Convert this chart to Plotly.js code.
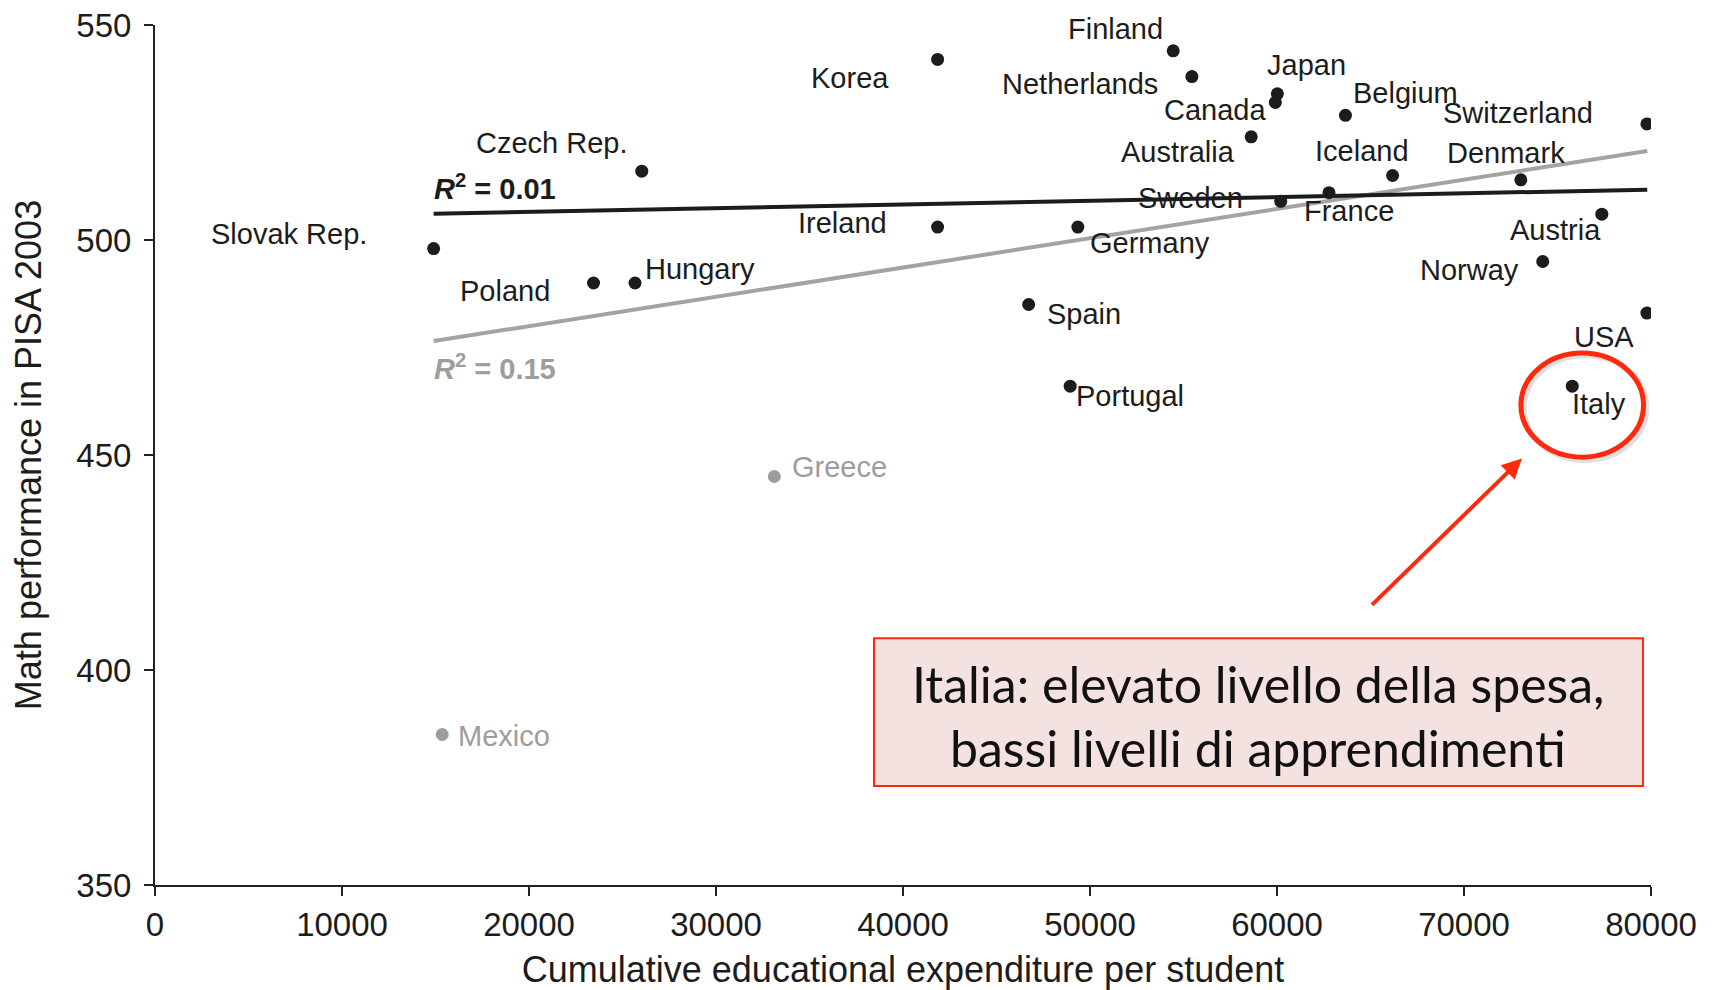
<!DOCTYPE html>
<html>
<head>
<meta charset="utf-8">
<script src="https://cdn.plot.ly/plotly-3.0.1.min.js"></script>
<style>html,body{margin:0;padding:0;background:#fff;}#chart{width:1719px;height:990px;}</style>
</head>
<body>
<div id="chart"></div>
<script>
// ---- Data ----
const countries = ["Slovak Rep.","Poland","Hungary","Czech Rep.","Korea","Ireland","Spain","Portugal","Germany","Finland","Netherlands","Australia","Canada","Japan","Sweden","France","Belgium","Iceland","Denmark","Norway","Austria","Italy","Switzerland","USA"];
const expenditure = [14900,23450,25670,26030,41850,41850,46720,48940,49350,54450,55450,58620,59910,60020,60200,62780,63660,66180,73040,74210,77370,75790,79780,79780];
const mathScore = [498,490,490,516,542,503,485,466,503,544,538,524,532,534,509,511,529,515,514,495,506,466,527,483];

const outlierCountries = ["Greece","Mexico"];
const outlierExpenditure = [33120,15360];
const outlierScore = [445,385];

// Trend lines (endpoints)
const trendX = [14900, 79800];
const trendAllY = [476.5, 520.7];      // grey, R2 = 0.15 (with Greece & Mexico)
const trendExclY = [506.1, 511.7];     // black, R2 = 0.01

const xTicks = [0,10000,20000,30000,40000,50000,60000,70000,80000];
const yTicks = [350,400,450,500,550];

const calloutLines = ["Italia: elevato livello della spesa,", "bassi livelli di apprendimenti"];

// ---- Label offsets (pixels) ----
const labelOffsets = {
  "Finland":[-58,22], "Korea":[-88,-19], "Netherlands":[-112,-7], "Japan":[29,29],
  "Canada":[-60,-8], "Belgium":[60,22], "Switzerland":[-129,11], "Australia":[-73,-15],
  "Iceland":[-31,25], "Denmark":[-15,27], "Czech Rep.":[-90,28], "Sweden":[-90,3],
  "France":[20,-18], "Slovak Rep.":[-145,15], "Ireland":[-95,4], "Germany":[72,-16],
  "Austria":[-46,-16], "Hungary":[65,14], "Norway":[-73,-8], "Poland":[-89,-8],
  "Spain":[55,-9], "USA":[-43,-24], "Portugal":[60,-10], "Italy":[27,-18],
  "Greece":[65,10], "Mexico":[62,-1]
};

const BLACK = "#1c1c1c", GREY = "#9d9d9d", RED = "#ff2a0e";
const LABEL_FONT = {family:"Liberation Sans, Arial, sans-serif", size:29, color:BLACK};

const traces = [
  {x:trendX, y:trendAllY, mode:"lines", line:{color:"#a3a3a3", width:4}, hoverinfo:"skip"},
  {x:trendX, y:trendExclY, mode:"lines", line:{color:BLACK, width:4}, hoverinfo:"skip"},
  {x:expenditure, y:mathScore, mode:"markers", marker:{color:BLACK, size:13}, text:countries},
  {x:outlierExpenditure, y:outlierScore, mode:"markers", marker:{color:GREY, size:13}, text:outlierCountries}
];

const annotations = [];
countries.forEach((c,i)=>{
  const o = labelOffsets[c];
  annotations.push({x:expenditure[i], y:mathScore[i], text:c, showarrow:false,
    xshift:o[0], yshift:o[1], font:LABEL_FONT});
});
outlierCountries.forEach((c,i)=>{
  const o = labelOffsets[c];
  annotations.push({x:outlierExpenditure[i], y:outlierScore[i], text:c, showarrow:false,
    xshift:o[0], yshift:o[1], font:Object.assign({}, LABEL_FONT, {color:GREY})});
});
// R2 labels
annotations.push({x:trendX[0], y:trendExclY[0], xanchor:"left", yshift:27, xshift:-2, showarrow:false,
  text:"<b><i>R</i><sup>2</sup> = 0.01</b>", font:{family:"Liberation Sans, Arial, sans-serif", size:29, color:BLACK}});
annotations.push({x:trendX[0], y:trendAllY[0], xanchor:"left", yshift:-26, xshift:-2, showarrow:false,
  text:"<b><i>R</i><sup>2</sup> = 0.15</b>", font:{family:"Liberation Sans, Arial, sans-serif", size:29, color:GREY}});
// Callout text
annotations.push({x:59010, y:396.8, text:calloutLines[0], showarrow:false,
  font:{family:"Lato, sans-serif", size:50, color:"#111"}});
annotations.push({x:59010, y:381.9, text:calloutLines[1], showarrow:false,
  font:{family:"Lato, sans-serif", size:50, color:"#111"}});
// Arrow
annotations.push({x:73100, y:449.2, ax:65000, ay:414.8, axref:"x", ayref:"y", xref:"x", yref:"y",
  showarrow:true, arrowcolor:RED, arrowwidth:4, arrowhead:2, arrowsize:1, text:""});

const shapes = [
  {type:"rect", xref:"x", yref:"y", x0:38450, x1:79570, y0:373.0, y1:407.4,
   line:{color:RED, width:2}, fillcolor:"#f4e2e1", layer:"below"},
  {type:"circle", xref:"x", yref:"y", x0:73200, x1:79750, y0:448.8, y1:473.2,
   line:{color:"rgba(0,0,0,0.12)", width:6}},
  {type:"circle", xref:"x", yref:"y", x0:73040, x1:79600, y0:449.5, y1:473.7,
   line:{color:RED, width:5}}
];

const layout = {
  width:1719, height:990,
  margin:{l:155, r:68, t:25, b:105},
  paper_bgcolor:"#fff", plot_bgcolor:"#fff",
  showlegend:false,
  font:{family:"Liberation Sans, Arial, sans-serif", color:BLACK},
  xaxis:{range:[0,80000], tickvals:xTicks, ticktext:xTicks.map(String), showgrid:false, zeroline:false,
    showline:true, linecolor:"#222", linewidth:2, ticks:"outside", ticklen:9, tickwidth:2, tickcolor:"#222",
    tickfont:{size:33, color:BLACK}, title:{text:"Cumulative educational expenditure per student", font:{size:36, color:BLACK}, standoff:18}},
  yaxis:{range:[350,550], tickvals:yTicks, showgrid:false, zeroline:false,
    showline:true, linecolor:"#222", linewidth:2, ticks:"outside", ticklen:9, tickwidth:2, tickcolor:"#222",
    ticklabelstandoff:6,
    tickfont:{size:33, color:BLACK}, title:{text:"Math performance in PISA 2003", font:{size:36, color:BLACK}, standoff:24}},
  annotations:annotations,
  shapes:shapes
};

Plotly.newPlot("chart", traces, layout, {displayModeBar:false, staticPlot:true});
</script>
</body>
</html>
